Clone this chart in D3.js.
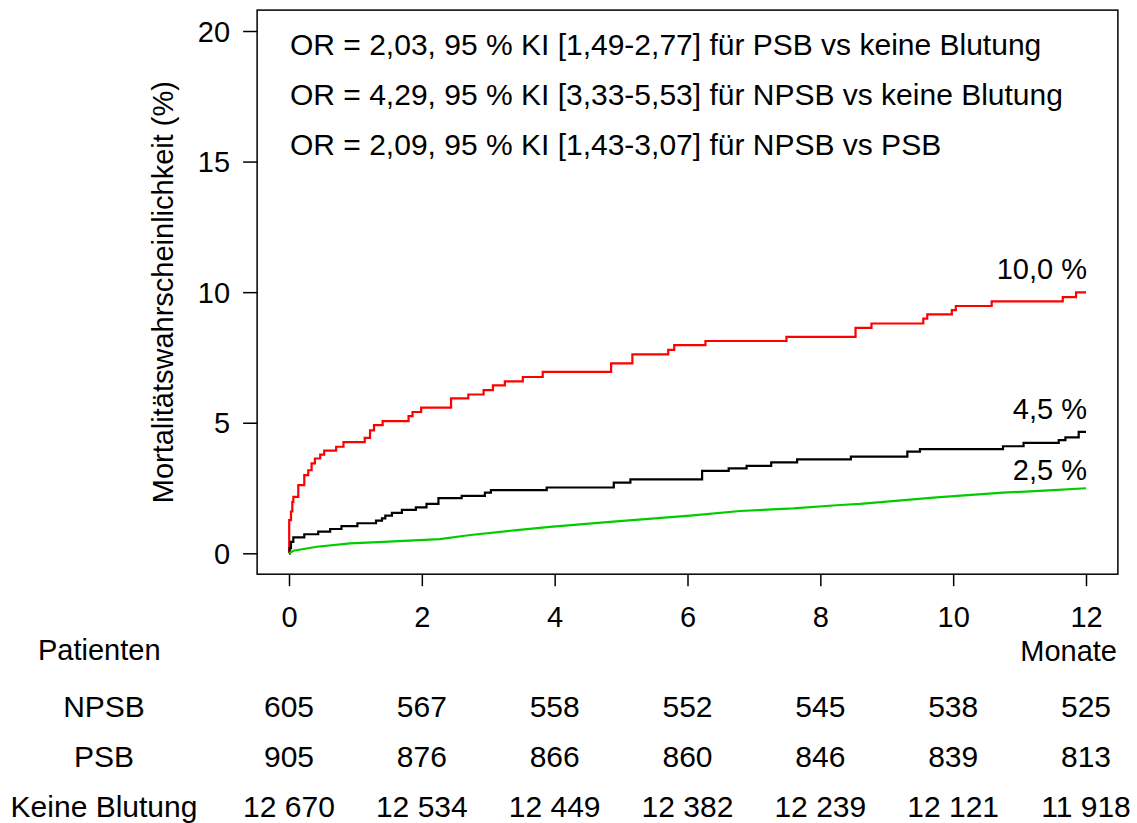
<!DOCTYPE html>
<html>
<head>
<meta charset="utf-8">
<script src="https://cdn.jsdelivr.net/npm/d3@7"></script>
<style>
  body { margin: 0; background: #fff; }
  text { font-family: "Liberation Sans", Arial, sans-serif; fill: #000; }
</style>
</head>
<body>
<script>
// chart size
var w = 1137, h = 823;

// --- data ---
var monthTicks = [0, 2, 4, 6, 8, 10, 12];
var riskTicks = [0, 5, 10, 15, 20];

// NPSB (red)
var npsbTime = [0, 0.003, 0.03, 0.05, 0.065, 0.14, 0.23, 0.29, 0.34, 0.39, 0.47, 0.53, 0.71, 0.82,
  1.14, 1.22, 1.28, 1.41, 1.80, 1.86, 1.99, 2.44, 2.70, 2.93, 3.07, 3.25, 3.52, 3.82,
  4.85, 5.17, 5.71, 5.80, 6.27, 7.49, 8.53, 8.77, 9.55, 9.61, 9.98, 10.04, 10.58, 11.65, 11.85, 12];
var npsbRisk = [0, 1.27, 1.60, 1.97, 2.16, 2.61, 2.99, 3.18, 3.44, 3.63, 3.78, 3.93, 4.08, 4.26,
  4.42, 4.71, 4.91, 5.06, 5.25, 5.41, 5.58, 5.93, 6.08, 6.25, 6.43, 6.58, 6.75, 6.95,
  7.27, 7.62, 7.79, 7.97, 8.13, 8.29, 8.63, 8.80, 8.99, 9.15, 9.31, 9.47, 9.65, 9.81, 9.99, 9.99];

// PSB (black)
var psbTime = [0, 0.01, 0.03, 0.065, 0.23, 0.44, 0.62, 0.79, 1.03, 1.31, 1.40, 1.45, 1.55, 1.70,
  1.91, 2.07, 2.25, 2.60, 2.95, 3.04, 3.88, 4.89, 5.14, 6.22, 6.62, 6.89, 7.26, 7.65,
  8.46, 9.31, 9.50, 10.75, 11.06, 11.59, 11.69, 11.89, 12];
var psbRisk = [0, 0.20, 0.44, 0.61, 0.73, 0.83, 0.93, 1.04, 1.15, 1.25, 1.34, 1.44, 1.55, 1.66,
  1.76, 1.89, 2.11, 2.20, 2.32, 2.42, 2.52, 2.71, 2.83, 3.16, 3.25, 3.35, 3.48, 3.60,
  3.70, 3.89, 3.99, 4.10, 4.23, 4.33, 4.44, 4.65, 4.65];

// keine Blutung (green)
var noneTime = [0, 0.065, 0.42, 0.92, 1.42, 2.27, 2.73, 3.43, 3.93, 4.88, 6.04, 6.79, 7.59, 8.30,
  8.60, 9.75, 10.75, 11.51, 12];
var noneRisk = [0, 0.10, 0.25, 0.38, 0.44, 0.54, 0.70, 0.89, 1.01, 1.21, 1.44, 1.62, 1.72, 1.85,
  1.89, 2.14, 2.32, 2.42, 2.49];

var endLabels = ["10,0 %", "4,5 %", "2,5 %"];

var orLines = [
  "OR = 2,03, 95 % KI [1,49-2,77] für PSB vs keine Blutung",
  "OR = 4,29, 95 % KI [3,33-5,53] für NPSB vs keine Blutung",
  "OR = 2,09, 95 % KI [1,43-3,07] für NPSB vs PSB"
];

var groupNames = ["NPSB", "PSB", "Keine Blutung"];
var atRiskNPSB = [605, 567, 558, 552, 545, 538, 525];
var atRiskPSB = [905, 876, 866, 860, 846, 839, 813];
var atRiskNone = [12670, 12534, 12449, 12382, 12239, 12121, 11918];

// --- scales ---
var x = d3.scaleLinear().domain([0, 12]).range([289, 1086]);
var y = d3.scaleLinear().domain([0, 20]).range([553.3, 31]);

var fs = 29;   // axis text
var fs2 = 30;  // annotation + table text

var svg = d3.select("body")
  .append("svg")
  .attr("width", w)
  .attr("height", h);

// plot box (R style, 4% beyond data range)
svg.append("rect")
  .attr("x", x(-0.48))
  .attr("y", y(20.8))
  .attr("width", x(12.48) - x(-0.48))
  .attr("height", y(-0.8) - y(20.8))
  .attr("fill", "none")
  .attr("stroke", "#000")
  .attr("stroke-width", 1.5);

// y axis
var yAxis = svg.append("g")
  .attr("transform", "translate(" + x(-0.48) + ",0)")
  .call(d3.axisLeft(y).tickValues(riskTicks).tickSize(14).tickPadding(13));
yAxis.select(".domain").remove();
yAxis.selectAll("line").attr("stroke-width", 1.5);
yAxis.selectAll("text").style("font-size", fs + "px").attr("dy", "0.35em");

// x axis
var xAxis = svg.append("g")
  .attr("transform", "translate(0," + y(-0.8) + ")")
  .call(d3.axisBottom(x).tickValues(monthTicks).tickSize(12));
xAxis.select(".domain").remove();
xAxis.selectAll("line").attr("stroke-width", 1.5);
xAxis.selectAll("text").style("font-size", fs + "px").attr("dy", null).attr("y", 53);

// y axis title
svg.append("text")
  .attr("transform", "translate(173," + ((y(20.8) + y(-0.8)) / 2) + ") rotate(-90)")
  .attr("text-anchor", "middle")
  .style("font-size", fs + "px")
  .text("Mortalitätswahrscheinlichkeit (%)");

// curves
var series = [
  { t: npsbTime, v: npsbRisk, color: "#ff0000", curve: d3.curveStepAfter, off: 13 },
  { t: psbTime, v: psbRisk, color: "#000000", curve: d3.curveStepAfter, off: 13 },
  { t: noneTime, v: noneRisk, color: "#00cd00", curve: d3.curveLinear, off: 8 }
];

series.forEach(function(s, i) {
  var pts = s.t.map(function(d, j) { return [d, s.v[j]]; });
  var line = d3.line()
    .x(function(d) { return x(d[0]); })
    .y(function(d) { return y(d[1]); })
    .curve(s.curve);
  svg.append("path")
    .datum(pts)
    .attr("d", line)
    .attr("fill", "none")
    .attr("stroke", s.color)
    .attr("stroke-width", 2.2);

  var last = pts[pts.length - 1];
  svg.append("text")
    .attr("x", x(last[0]) + 1)
    .attr("y", y(last[1]) - s.off)
    .attr("text-anchor", "end")
    .style("font-size", fs + "px")
    .text(endLabels[i]);
});

// odds ratio text
svg.selectAll(".orline")
  .data(orLines)
  .enter().append("text")
  .attr("class", "orline")
  .attr("x", 290)
  .attr("y", function(d, i) { return 55 + i * 50; })
  .style("font-size", fs2 + "px")
  .text(function(d) { return d; });

// patients at risk table
var loc = d3.formatLocale({ decimal: ",", thousands: " ", grouping: [3], currency: ["", " €"] });
var fmt = loc.format(",d");

svg.append("text")
  .attr("x", 38).attr("y", 660)
  .style("font-size", fs + "px")
  .text("Patienten");
svg.append("text")
  .attr("x", 1117).attr("y", 661)
  .attr("text-anchor", "end")
  .style("font-size", fs + "px")
  .text("Monate");

var rows = [atRiskNPSB, atRiskPSB, atRiskNone];
rows.forEach(function(r, i) {
  var by = 716.7 + i * 50;
  svg.append("text")
    .attr("x", 104).attr("y", by)
    .attr("text-anchor", "middle")
    .style("font-size", fs2 + "px")
    .text(groupNames[i]);
  svg.selectAll(".row" + i)
    .data(r)
    .enter().append("text")
    .attr("class", "row" + i)
    .attr("x", function(d, j) { return x(monthTicks[j]); })
    .attr("y", by)
    .attr("text-anchor", "middle")
    .style("font-size", fs2 + "px")
    .text(function(d) { return fmt(d); });
});
</script>
</body>
</html>
